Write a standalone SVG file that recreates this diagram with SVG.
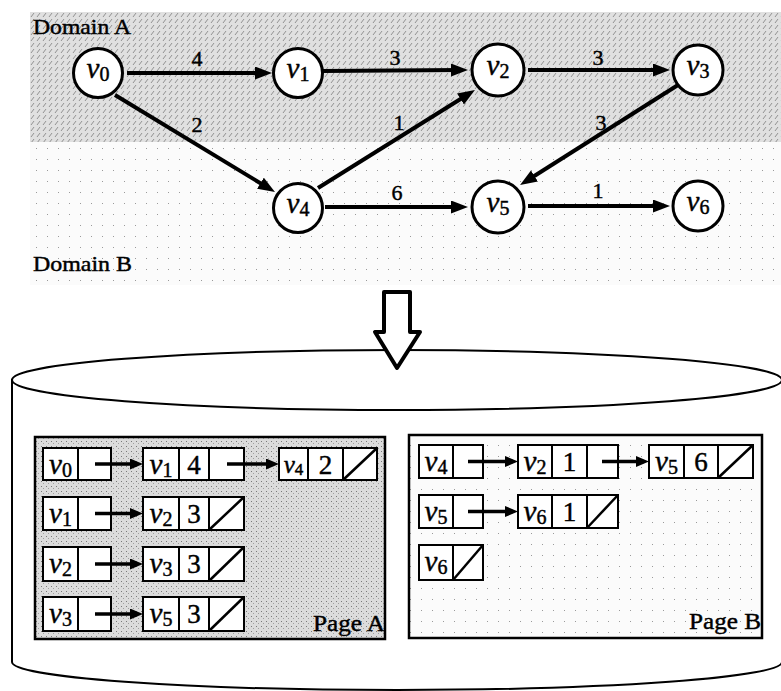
<svg xmlns="http://www.w3.org/2000/svg" width="781" height="691" viewBox="0 0 781 691" font-family="'Liberation Serif', 'DejaVu Serif', serif">
<defs>
<pattern id="hatchA" width="6" height="6" patternUnits="userSpaceOnUse">
<rect width="6" height="6" fill="#e0e0e0"/>
<path d="M1,5 L4,1" stroke="#7c7c7c" stroke-width="0.8"/>
</pattern>
<pattern id="dotsB" width="11" height="11" patternUnits="userSpaceOnUse">
<rect width="11" height="11" fill="#fbfbfb"/>
<rect x="3" y="5" width="1" height="1" fill="#9a9a9a"/>
</pattern>
<pattern id="speckA" width="5" height="5" patternUnits="userSpaceOnUse">
<rect width="5" height="5" fill="#dcdcdc"/>
<rect x="1" y="1" width="1" height="1" fill="#7a7a7a"/>
<rect x="3" y="3" width="1" height="1" fill="#a0a0a0"/>
</pattern>
<marker id="ah" markerUnits="userSpaceOnUse" markerWidth="18" markerHeight="14" refX="10" refY="6.5" orient="auto">
<path d="M0,0 L17,6.5 L0,13 Z" fill="#000"/>
</marker>
<marker id="ahs" markerUnits="userSpaceOnUse" markerWidth="14" markerHeight="12" refX="8" refY="5.5" orient="auto">
<path d="M0,0 L13,5.5 L0,11 Z" fill="#000"/>
</marker>
</defs>
<style>
text{font-family:"Liberation Serif","DejaVu Serif",serif;fill:#000;stroke:#000;stroke-width:0.45}
.v{font-style:italic;font-size:29px}
.sub{font-size:20px}
.vs{font-style:italic;font-size:25px}
.subs{font-size:17px}
.num{font-size:27px}
.lbl{font-size:22px}
.dom{font-size:22px}
.page{font-size:24px}
.node circle{fill:#fff;stroke:#000;stroke-width:3}
.edge{stroke:#000;stroke-width:4;fill:none;marker-end:url(#ah)}
.pedge{stroke:#000;stroke-width:3.5;fill:none;marker-end:url(#ahs)}
.cell{fill:#fff;stroke:#000;stroke-width:2}
.slash{stroke:#000;stroke-width:2.5}
.cyl{fill:#fff;stroke:#000;stroke-width:2}
</style>

<!-- backgrounds -->
<rect x="30" y="12" width="751" height="130" fill="url(#hatchA)"/>
<rect x="30" y="142" width="751" height="143" fill="url(#dotsB)"/>
<text class="dom" x="33" y="34" textLength="98" lengthAdjust="spacingAndGlyphs">Domain A</text>
<text class="dom" x="33" y="271" textLength="99" lengthAdjust="spacingAndGlyphs">Domain B</text>

<!-- connectors -->
<g id="edges">
<line class="edge" x1="127" y1="73" x2="265" y2="73"/>
<line class="edge" x1="323" y1="71" x2="461" y2="70"/>
<line class="edge" x1="528" y1="70" x2="663" y2="70"/>
<line class="edge" x1="115" y1="95" x2="269" y2="188.4"/>
<line class="edge" x1="318" y1="188" x2="469" y2="93.7"/>
<line class="edge" x1="678" y1="85" x2="526" y2="181.3"/>
<line class="edge" x1="325" y1="207" x2="461" y2="207"/>
<line class="edge" x1="528" y1="206" x2="663" y2="206"/>
<text class="lbl" x="197" y="66" text-anchor="middle">4</text>
<text class="lbl" x="395" y="65" text-anchor="middle">3</text>
<text class="lbl" x="598" y="65" text-anchor="middle">3</text>
<text class="lbl" x="197" y="132" text-anchor="middle">2</text>
<text class="lbl" x="399" y="130" text-anchor="middle">1</text>
<text class="lbl" x="601" y="130" text-anchor="middle">3</text>
<text class="lbl" x="397" y="200" text-anchor="middle">6</text>
<text class="lbl" x="598" y="198" text-anchor="middle">1</text>
</g>

<!-- graph nodes -->
<g id="v0" class="node"><circle cx="98" cy="73" r="24.5"/><text x="98" y="78" text-anchor="middle"><tspan class="v">v</tspan><tspan class="sub" dy="3">0</tspan></text></g>
<g id="v1" class="node"><circle cx="298" cy="73" r="24.5"/><text x="298" y="78" text-anchor="middle"><tspan class="v">v</tspan><tspan class="sub" dy="3">1</tspan></text></g>
<g id="v2" class="node"><circle cx="498" cy="70" r="26"/><text x="498" y="75" text-anchor="middle"><tspan class="v">v</tspan><tspan class="sub" dy="3">2</tspan></text></g>
<g id="v3" class="node"><circle cx="698" cy="70" r="25"/><text x="698" y="75" text-anchor="middle"><tspan class="v">v</tspan><tspan class="sub" dy="3">3</tspan></text></g>
<g id="v4" class="node"><circle cx="298" cy="208" r="24.5"/><text x="298" y="213" text-anchor="middle"><tspan class="v">v</tspan><tspan class="sub" dy="3">4</tspan></text></g>
<g id="v5" class="node"><circle cx="498" cy="207" r="26"/><text x="498" y="212" text-anchor="middle"><tspan class="v">v</tspan><tspan class="sub" dy="3">5</tspan></text></g>
<g id="v6" class="node"><circle cx="698" cy="206" r="25"/><text x="698" y="211" text-anchor="middle"><tspan class="v">v</tspan><tspan class="sub" dy="3">6</tspan></text></g>

<!-- cylinder -->
<g id="database">
<path class="cyl" d="M12,380 L12,662 A385,28 0 0 0 782,662 L782,380 Z"/>
<ellipse class="cyl" cx="397" cy="380" rx="385" ry="30"/>
</g>

<!-- big arrow -->
<g id="transform-arrow">
<path d="M384,292 L410,292 L410,332 L420,332 L397,368 L375,332 L384,332 Z" fill="#fff" stroke="#000" stroke-width="4" stroke-linejoin="round"/>
</g>

<!-- Page A -->
<g id="pageA">
<rect x="35" y="437" width="350" height="202" fill="url(#speckA)" stroke="#000" stroke-width="2.5"/>
<text class="page" x="385" y="631" text-anchor="end" textLength="72" lengthAdjust="spacingAndGlyphs">Page A</text>
</g>
<g id="pageA-row1">
<rect class="cell" x="43" y="448" width="35" height="32"/><rect class="cell" x="78" y="448" width="33" height="32"/>
<text x="60.5" y="474" text-anchor="middle"><tspan class="v">v</tspan><tspan class="sub" dy="3">0</tspan></text>
<rect class="cell" x="143" y="448" width="36" height="32"/><rect class="cell" x="179" y="448" width="30" height="32"/><rect class="cell" x="209" y="448" width="35" height="32"/>
<text x="161" y="474" text-anchor="middle"><tspan class="v">v</tspan><tspan class="sub" dy="3">1</tspan></text>
<text class="num" x="194" y="474" text-anchor="middle">4</text>
<rect class="cell" x="279" y="448" width="29" height="32"/><rect class="cell" x="308" y="448" width="35" height="32"/><rect class="cell" x="343" y="448" width="34" height="32"/>
<text x="293.5" y="473" text-anchor="middle"><tspan class="vs">v</tspan><tspan class="subs" dy="2">4</tspan></text>
<text class="num" x="325.5" y="474" text-anchor="middle">2</text>
<line class="slash" x1="343" y1="480" x2="377" y2="448"/>
<line class="pedge" x1="95" y1="464" x2="138" y2="464"/>
<line class="pedge" x1="227" y1="464" x2="274" y2="464"/>
</g>
<g id="pageA-row2">
<rect class="cell" x="43" y="497" width="35" height="33"/><rect class="cell" x="78" y="497" width="33" height="33"/>
<text x="60.5" y="523" text-anchor="middle"><tspan class="v">v</tspan><tspan class="sub" dy="3">1</tspan></text>
<rect class="cell" x="143" y="497" width="36" height="33"/><rect class="cell" x="179" y="497" width="30" height="33"/><rect class="cell" x="209" y="497" width="35" height="33"/>
<text x="161" y="523" text-anchor="middle"><tspan class="v">v</tspan><tspan class="sub" dy="3">2</tspan></text>
<text class="num" x="194" y="523" text-anchor="middle">3</text>
<line class="slash" x1="209" y1="530" x2="244" y2="497"/>
<line class="pedge" x1="95" y1="513.5" x2="138" y2="513.5"/>
</g>
<g id="pageA-row3">
<rect class="cell" x="43" y="547" width="35" height="34"/><rect class="cell" x="78" y="547" width="33" height="34"/>
<text x="60.5" y="573" text-anchor="middle"><tspan class="v">v</tspan><tspan class="sub" dy="3">2</tspan></text>
<rect class="cell" x="143" y="547" width="36" height="34"/><rect class="cell" x="179" y="547" width="30" height="34"/><rect class="cell" x="209" y="547" width="35" height="34"/>
<text x="161" y="573" text-anchor="middle"><tspan class="v">v</tspan><tspan class="sub" dy="3">3</tspan></text>
<text class="num" x="194" y="573" text-anchor="middle">3</text>
<line class="slash" x1="209" y1="581" x2="244" y2="547"/>
<line class="pedge" x1="95" y1="564" x2="138" y2="564"/>
</g>
<g id="pageA-row4">
<rect class="cell" x="43" y="597" width="35" height="34"/><rect class="cell" x="78" y="597" width="33" height="34"/>
<text x="60.5" y="623" text-anchor="middle"><tspan class="v">v</tspan><tspan class="sub" dy="3">3</tspan></text>
<rect class="cell" x="143" y="597" width="36" height="34"/><rect class="cell" x="179" y="597" width="30" height="34"/><rect class="cell" x="209" y="597" width="35" height="34"/>
<text x="161" y="623" text-anchor="middle"><tspan class="v">v</tspan><tspan class="sub" dy="3">5</tspan></text>
<text class="num" x="194" y="623" text-anchor="middle">3</text>
<line class="slash" x1="209" y1="631" x2="244" y2="597"/>
<line class="pedge" x1="95" y1="614" x2="138" y2="614"/>
</g>

<!-- Page B -->
<g id="pageB">
<rect x="409" y="435" width="353" height="203" fill="url(#dotsB)" stroke="#000" stroke-width="2.5"/>
<text class="page" x="761" y="629" text-anchor="end" textLength="72" lengthAdjust="spacingAndGlyphs">Page B</text>
</g>
<g id="pageB-row1">
<rect class="cell" x="419" y="445" width="34" height="33"/><rect class="cell" x="453" y="445" width="30" height="33"/>
<text x="436" y="471" text-anchor="middle"><tspan class="v">v</tspan><tspan class="sub" dy="3">4</tspan></text>
<rect class="cell" x="518" y="445" width="34" height="33"/><rect class="cell" x="552" y="445" width="35" height="33"/><rect class="cell" x="587" y="445" width="31" height="33"/>
<text x="535" y="471" text-anchor="middle"><tspan class="v">v</tspan><tspan class="sub" dy="3">2</tspan></text>
<text class="num" x="569.5" y="471" text-anchor="middle">1</text>
<rect class="cell" x="649" y="445" width="35" height="33"/><rect class="cell" x="684" y="445" width="34" height="33"/><rect class="cell" x="718" y="445" width="35" height="33"/>
<text x="666.5" y="471" text-anchor="middle"><tspan class="v">v</tspan><tspan class="sub" dy="3">5</tspan></text>
<text class="num" x="701" y="471" text-anchor="middle">6</text>
<line class="slash" x1="718" y1="478" x2="753" y2="445"/>
<line class="pedge" x1="468" y1="461.5" x2="513" y2="461.5"/>
<line class="pedge" x1="602" y1="461.5" x2="644" y2="461.5"/>
</g>
<g id="pageB-row2">
<rect class="cell" x="419" y="495" width="34" height="33"/><rect class="cell" x="453" y="495" width="30" height="33"/>
<text x="436" y="521" text-anchor="middle"><tspan class="v">v</tspan><tspan class="sub" dy="3">5</tspan></text>
<rect class="cell" x="518" y="495" width="34" height="33"/><rect class="cell" x="552" y="495" width="35" height="33"/><rect class="cell" x="587" y="495" width="31" height="33"/>
<text x="535" y="521" text-anchor="middle"><tspan class="v">v</tspan><tspan class="sub" dy="3">6</tspan></text>
<text class="num" x="569.5" y="521" text-anchor="middle">1</text>
<line class="slash" x1="587" y1="528" x2="618" y2="495"/>
<line class="pedge" x1="468" y1="511.5" x2="513" y2="511.5"/>
</g>
<g id="pageB-row3">
<rect class="cell" x="419" y="545" width="34" height="35"/><rect class="cell" x="453" y="545" width="30" height="35"/>
<text x="436" y="571" text-anchor="middle"><tspan class="v">v</tspan><tspan class="sub" dy="3">6</tspan></text>
<line class="slash" x1="453" y1="580" x2="483" y2="545"/>
</g>
</svg>
